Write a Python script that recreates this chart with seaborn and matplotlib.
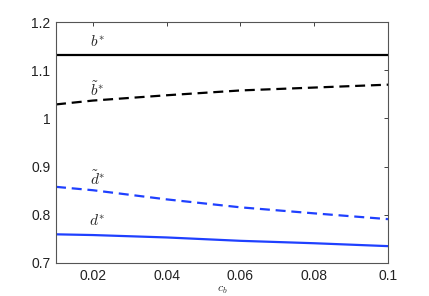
import numpy as np
import pandas as pd
import matplotlib
matplotlib.use("Agg")
import matplotlib.pyplot as plt
import seaborn as sns

# values
c_b = [0.01, 0.02, 0.04, 0.06, 0.08, 0.10]
b_star = [1.132, 1.132, 1.132, 1.132, 1.132, 1.132]
b_tilde = [1.029, 1.037, 1.048, 1.058, 1.064, 1.070]
d_tilde = [0.858, 0.851, 0.832, 0.8155, 0.803, 0.791]
d_star = [0.7595, 0.758, 0.753, 0.746, 0.741, 0.735]

xticks = [0.02, 0.04, 0.06, 0.08, 0.1]
xtick_labels = ["0.02", "0.04", "0.06", "0.08", "0.1"]
yticks = [0.7, 0.8, 0.9, 1.0, 1.1, 1.2]
ytick_labels = ["0.7", "0.8", "0.9", "1", "1.1", "1.2"]

sns.set_style("white")
plt.rcParams['font.family'] = ['Liberation Sans', 'DejaVu Sans']
plt.rcParams['mathtext.fontset'] = 'cm'

fig = plt.figure(figsize=(4.29, 2.96), dpi=100)
ax = fig.add_axes([56 / 429, 1 - 263 / 296, 332 / 429, 241 / 296])

blue = '#1f40ff'
sns.lineplot(x=c_b, y=b_star, ax=ax, color='black', lw=1.6)
sns.lineplot(x=c_b, y=b_tilde, ax=ax, color='black', lw=1.6)
ax.lines[-1].set_dashes((4.5, 2.6))
sns.lineplot(x=c_b, y=d_tilde, ax=ax, color=blue, lw=1.6)
ax.lines[-1].set_dashes((4.5, 2.6))
sns.lineplot(x=c_b, y=d_star, ax=ax, color=blue, lw=1.6)

# curve labels
ax.text(0.0212, 1.160, r'$b^{*}$', ha='center', va='center', fontsize=11)
ax.text(0.0212, 1.060, r'$\tilde{b}^{*}$', ha='center', va='center', fontsize=11)
ax.text(0.0212, 0.874, r'$\tilde{d}^{*}$', ha='center', va='center', fontsize=11)
ax.text(0.0212, 0.788, r'$d^{*}$', ha='center', va='center', fontsize=11)

ax.set_xlim(0.01, 0.1)
ax.set_ylim(0.7, 1.2)
ax.set_xticks(xticks)
ax.set_xticklabels(xtick_labels)
ax.set_yticks(yticks)
ax.set_yticklabels(ytick_labels)
ax.tick_params(direction='in', length=3, width=0.6, top=True, right=True,
               labelsize=10, colors='#222222', pad=4)
for s in ax.spines.values():
    s.set_visible(True)
    s.set_color('#555555')
    s.set_linewidth(0.8)
ax.set_xlabel(r'$c_b$', fontsize=8.5, labelpad=1)

fig.savefig("out.png", dpi=100)
